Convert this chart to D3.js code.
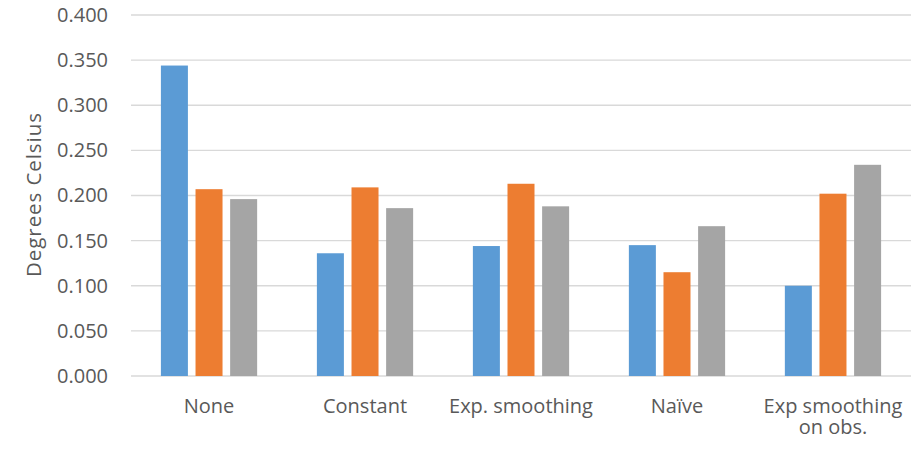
<!DOCTYPE html>
<html>
<head>
<meta charset="utf-8">
<script src="https://cdn.jsdelivr.net/npm/d3@7"></script>
<style>
  html, body { margin: 0; padding: 0; background: #fff; }
  svg text { font-family: "Open Sans", "Noto Sans", sans-serif; fill: #595959; }
</style>
</head>
<body>
<svg id="chart" width="920" height="450"></svg>
<script>
// Categories (two-line labels split on "\n")
const categories = ["None", "Constant", "Exp. smoothing", "Naïve", "Exp smoothing\non obs."];
const seriesNames = ["Series 1", "Series 2", "Series 3"];
const seriesColors = ["#5B9BD5", "#ED7D31", "#A5A5A5"];

// Values per series, in category order
const series1 = [0.344, 0.136, 0.144, 0.145, 0.100];
const series2 = [0.207, 0.209, 0.213, 0.115, 0.202];
const series3 = [0.196, 0.186, 0.188, 0.166, 0.234];

const yTicks = [0, 0.05, 0.1, 0.15, 0.2, 0.25, 0.3, 0.35, 0.4];
const yTitle = "Degrees Celsius";

const allSeries = [series1, series2, series3];

const svg = d3.select("#chart");
const plotLeft = 131, plotRight = 911, plotTop = 15, plotBottom = 376;

const x0 = d3.scaleBand().domain(categories).range([plotLeft, plotRight])
  .paddingInner(0.383).paddingOuter(0.1917);
const x1 = d3.scaleBand().domain(d3.range(3)).range([0, x0.bandwidth()])
  .paddingInner(0.22).paddingOuter(0);
const y = d3.scaleLinear().domain([0, 0.4]).range([plotBottom, plotTop]);

// Horizontal gridlines
svg.append("g").selectAll("line").data(yTicks).join("line")
  .attr("x1", plotLeft).attr("x2", plotRight)
  .attr("y1", d => y(d)).attr("y2", d => y(d))
  .attr("stroke", "#D9D9D9").attr("stroke-width", 1.3);

// Y axis tick labels
const yAxis = d3.axisLeft(y).tickValues(yTicks).tickFormat(d3.format(".3f"))
  .tickSize(0).tickPadding(0);
const gy = svg.append("g").attr("transform", `translate(108,0)`).call(yAxis);
gy.select(".domain").remove();
gy.selectAll("text").attr("font-size", 20).attr("fill", "#595959")
  .style("font-family", '"Open Sans", sans-serif');

// Bars
const groups = svg.append("g").selectAll("g").data(categories).join("g")
  .attr("transform", c => `translate(${x0(c)},0)`);
groups.selectAll("rect")
  .data((c, i) => allSeries.map((s, k) => ({ k, v: s[i] })))
  .join("rect")
  .attr("x", d => x1(d.k))
  .attr("width", x1.bandwidth())
  .attr("y", d => y(d.v))
  .attr("height", d => y(0) - y(d.v))
  .attr("fill", d => seriesColors[d.k]);

// Category labels, one text element per line
const catG = svg.append("g");
categories.forEach(c => {
  const cx = x0(c) + x0.bandwidth() / 2;
  c.split("\n").forEach((ln, i) => {
    catG.append("text")
      .attr("x", cx)
      .attr("y", 413 + i * 21)
      .attr("text-anchor", "middle")
      .attr("font-size", 20)
      .text(ln);
  });
});

// Y axis title
svg.append("text")
  .attr("transform", `translate(41,195) rotate(-90)`)
  .attr("text-anchor", "middle")
  .attr("font-size", 20.5)
  .attr("textLength", 164)
  .attr("lengthAdjust", "spacing")
  .text(yTitle);
</script>
</body>
</html>
